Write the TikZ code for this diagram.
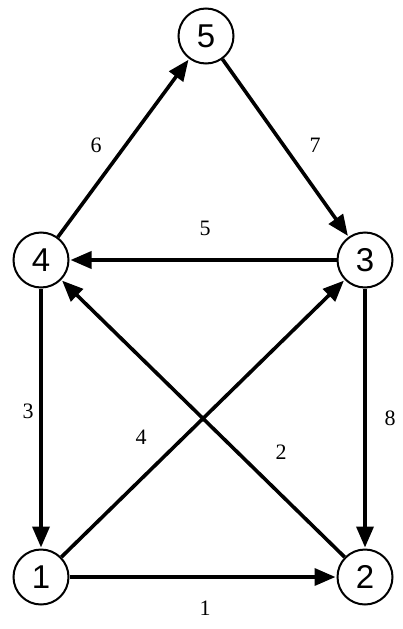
\documentclass[tikz,border=0pt]{standalone}
\usepackage{fontspec}
\setmainfont{Liberation Serif}
\newfontfamily\nodefont{Liberation Sans}
\usetikzlibrary{arrows.meta}
\begin{document}
\begin{tikzpicture}[x=1pt,y=-1pt,
  vert/.style={circle,draw,line width=2pt,minimum size=55pt,inner sep=0pt,font=\nodefont\fontsize{33}{33}\selectfont},
  edge/.style={line width=3.6pt,-{Triangle[length=21pt,width=17pt]},shorten >=1pt},
  lab/.style={font=\fontsize{22}{22}\selectfont}]
\useasboundingbox (0,0) rectangle (403,629);
\fill[white] (0,0) rectangle (403,629);
\node[vert] (n5) at (206,36) {5};
\node[vert] (n4) at (41,260) {4};
\node[vert] (n3) at (365,260) {3};
\node[vert] (n1) at (41,577) {1};
\node[vert] (n2) at (365,577) {2};
\draw[edge] (n4) -- (n5);
\draw[edge] (n5) -- (n3);
\draw[edge] (n3) -- (n4);
\draw[edge] (n4) -- (n1);
\draw[edge] (n1) -- (n3);
\draw[edge] (n2) -- (n4);
\draw[edge] (n3) -- (n2);
\draw[edge] (n1) -- (n2);
\node[lab] (l6) at (96,145) {6};
\node[lab] (l7) at (315,145) {7};
\node[lab] (l5) at (205,228) {5};
\node[lab] (l3) at (28,411) {3};
\node[lab] (l4) at (141,437) {4};
\node[lab] (l2) at (281,452) {2};
\node[lab] (l8) at (390,418) {8};
\node[lab] (l1) at (205,608) {1};
\end{tikzpicture}
\end{document}
